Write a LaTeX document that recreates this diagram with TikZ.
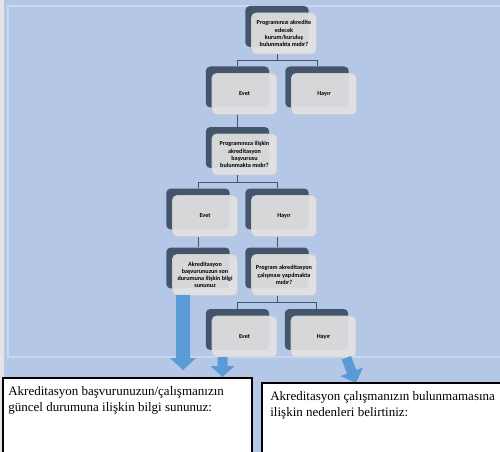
\documentclass[tikz,border=0pt]{standalone}
\usepackage{fontspec}
\setmainfont{Liberation Serif}
\newfontfamily\boxfont{Carlito}
\usetikzlibrary{positioning,calc}

\definecolor{bgblue}{HTML}{B4C7E7}
\definecolor{frameblue}{HTML}{CBD7EE}
\definecolor{slate}{HTML}{44546A}
\definecolor{cardgray}{HTML}{E3E3E3}
\definecolor{arrowblue}{HTML}{5B9BD5}
\definecolor{stripgray}{HTML}{E4E4E4}

\tikzset{
  back/.style={fill=slate, rounded corners=0.09cm, minimum width=1.27cm, minimum height=0.82cm, inner sep=0pt},
  card/.style={fill=cardgray, fill opacity=0.92, text opacity=1, draw=gray!40, line width=0.4pt,
    rounded corners=0.09cm, minimum width=1.3cm, minimum height=0.82cm, inner sep=0pt, align=center,
    font=\boxfont\bfseries\fontsize{3.5}{4.1}\selectfont},
  link/.style={draw=slate, line width=0.5pt},
  bigarrow/.style={fill=arrowblue},
  notebox/.style={draw=black, fill=white, line width=0.6pt},
  note/.style={anchor=north west, align=left, inner sep=0pt, font=\fontsize{7.4}{9.1}\selectfont}
}

\begin{document}
\begin{tikzpicture}[x=0.02cm, y=-0.02cm]
    \useasboundingbox (0,0) rectangle (500,452);
    \clip (0,0) rectangle (500,452);

    % Background
    \fill[stripgray] (0,0) rectangle (4,452);
    \fill[bgblue] (4,0) rectangle (500,452);
    \draw[frameblue, line width=0.8pt] (8,6) rectangle (520,357);

    % First question
    \node[back] (q1b) at (277,26.5) {};
    \node[card] (q1) at (284,33.5) {Programınızı akredite\\edecek\\kurum/kuruluş\\bulunmakta mıdır?};
    \node[back] (e1b) at (237.5,87) {};
    \node[card] (e1) at (244.5,94) {Evet};
    \node[back] (h1b) at (317,87) {};
    \node[card] (h1) at (324,94) {Hayır};

    % Second question
    \node[back] (q2b) at (237.5,147.5) {};
    \node[card] (q2) at (244.5,154.5) {Programınıza ilişkin\\akreditasyon\\başvurusu\\bulunmakta mıdır?};
    \node[back] (e2b) at (198,209) {};
    \node[card] (e2) at (205,216) {Evet};
    \node[back] (h2b) at (277,209) {};
    \node[card] (h2) at (284,216) {Hayır};

    % Third level
    \node[back] (a3b) at (198,268) {};
    \node[card] (a3) at (205,275) {Akreditasyon\\başvurunuzun son\\durumuna ilişkin bilgi\\sununuz};
    \node[back] (p3b) at (277,268) {};
    \node[card] (p3) at (284,275) {Program akreditasyon\\çalışması yapılmakta\\mıdır?};
    \node[back] (e4b) at (237.5,329.5) {};
    \node[card] (e4) at (244.5,336.5) {Evet};
    \node[back] (h4b) at (316.5,329.5) {};
    \node[card] (h4) at (323.5,336.5) {Hayır};

    % Connectors
    \coordinate (j1) at (277,60);
    \draw[link] (q1b.south |- q1.south) -- (j1) -| (e1b.north);
    \draw[link] (j1) -| (h1b.north);
    \draw[link] (q2b.north |- e1.south) -- (q2b.north);
    \coordinate (j2) at (237.5,182);
    \draw[link] (q2b.south |- q2.south) -- (j2) -| (e2b.north);
    \draw[link] (j2) -| (h2b.north);
    \draw[link] (a3b.north |- e2.south) -- (a3b.north);
    \draw[link] (p3b.north |- h2.south) -- (p3b.north);
    \coordinate (j3) at (277,302);
    \draw[link] (p3b.south |- p3.south) -- (j3) -| (e4b.north);
    \draw[link] (j3) -| (h4b.north);

    % Block arrows
    \fill[bigarrow] (176,295) -- (190,295) -- (190,358) -- (196,358) -- (183,370) -- (170,358) -- (176,358) -- cycle;
    \fill[bigarrow] (217.5,357) -- (227.5,357) -- (227.5,366) -- (234.5,366) -- (222.5,377) -- (210.5,366) -- (217.5,366) -- cycle;
    \fill[bigarrow, rotate around={21:(356,383)}]
        (351,356) -- (361,356) -- (361,371) -- (368,371) -- (356,383) -- (344,371) -- (351,371) -- cycle;

    % Answer boxes
    \draw[notebox] (3,378) rectangle (252,470);
    \node[note] (leftnote) at (8,386) {Akreditasyon başvurunuzun/çalışmanızın\\güncel durumuna ilişkin bilgi sununuz:};
    \draw[notebox] (262,383) rectangle (520,470);
    \node[note] (rightnote) at (270,391) {Akreditasyon çalışmanızın bulunmamasına\\ilişkin nedenleri belirtiniz:};
\end{tikzpicture}
\end{document}
